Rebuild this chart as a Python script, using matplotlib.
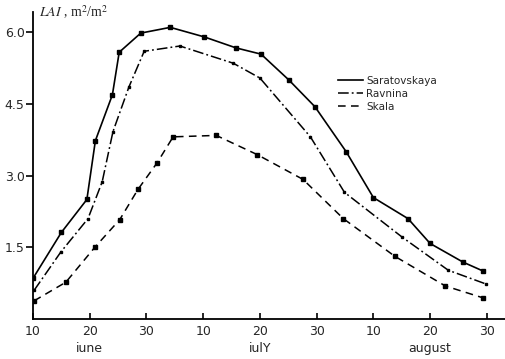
import matplotlib
matplotlib.use("Agg")
import matplotlib.pyplot as plt

# x = days counted from 10 June (tick every 10 days)
sar_day = [0, 5, 9.5, 11, 14, 15.2, 19, 24.2, 30.2, 35.8, 40.2, 45.1, 49.7, 55.2, 60, 66.1, 70, 75.8, 79.4]
sar_lai = [0.85, 1.81, 2.50, 3.73, 4.69, 5.58, 5.98, 6.10, 5.90, 5.67, 5.54, 5.00, 4.44, 3.50, 2.54, 2.10, 1.58, 1.19, 1.00]

rav_day = [0.2, 4.9, 9.7, 12.2, 14.1, 16.9, 19.6, 25.9, 35.3, 40.0, 48.9, 54.9, 65.1, 73.2, 79.9]
rav_lai = [0.60, 1.40, 2.10, 2.87, 3.92, 4.85, 5.60, 5.71, 5.35, 5.04, 3.81, 2.65, 1.71, 1.02, 0.73]

ska_day = [0.2, 5.8, 10.9, 15.3, 18.5, 21.9, 24.7, 32.3, 39.5, 47.6, 54.7, 63.8, 72.7, 79.4]
ska_lai = [0.38, 0.77, 1.50, 2.08, 2.71, 3.27, 3.81, 3.84, 3.44, 2.92, 2.10, 1.31, 0.69, 0.44]

tick_pos = [0, 10, 20, 30, 40, 50, 60, 70, 80]
tick_labels = ["10", "20", "30", "10", "20", "30", "10", "20", "30"]
month_pos = [10, 40, 70]
month_names = ["iune", "iulY", "august"]
y_ticks = [1.5, 3.0, 4.5, 6.0]

TXT = "#262626"

fig = plt.figure(figsize=(5.05, 3.59), dpi=100)
ax = fig.add_axes([0.0653, 0.1114, 0.9347, 0.855])

ax.plot(sar_day, sar_lai, color="black", lw=1.2, ls="-",
        marker="s", ms=2.4, label="Saratovskaya")
ax.plot(rav_day, rav_lai, color="black", lw=1.1, ls=(0, (7, 2, 1.2, 2)),
        marker="s", ms=2.0, label="Ravnina")
ax.plot(ska_day, ska_lai, color="black", lw=1.1, ls=(0, (5, 3.5)),
        marker="s", ms=2.4, label="Skala")

ax.set_xlim(0, 83.2)
ax.set_ylim(0, 6.42)
ax.spines["top"].set_visible(False)
ax.spines["right"].set_visible(False)
ax.spines["left"].set_linewidth(1.3)
ax.spines["bottom"].set_linewidth(1.3)

ax.set_yticks(y_ticks)
ax.set_yticklabels([f"{v:.1f}" for v in y_ticks])
ax.tick_params(axis="y", direction="out", length=5, width=1.2,
               labelsize=9, labelcolor=TXT, pad=1)
ax.set_xticks(tick_pos)
ax.set_xticklabels(tick_labels)
ax.tick_params(axis="x", direction="in", length=4, width=1.2,
               labelsize=9, labelcolor=TXT, pad=4)

for pos, name in zip(month_pos, month_names):
    ax.text(pos, -0.074, name, transform=ax.get_xaxis_transform(),
            ha="center", va="top", fontsize=9, color=TXT)

ax.text(0.013, 1.0, r"$\it{LAI}$ , m$^2$/m$^2$", transform=ax.transAxes,
        ha="left", va="center", fontsize=10, color=TXT,
        math_fontfamily="stix", family="Liberation Serif")

ax.legend(loc="upper left", bbox_to_anchor=(0.635, 0.81), frameon=False,
          fontsize=7.5, handlelength=2.4, handletextpad=0.3,
          labelspacing=0.3, borderpad=0, markerscale=0,
          labelcolor=TXT)

fig.savefig("out.png", dpi=100)
